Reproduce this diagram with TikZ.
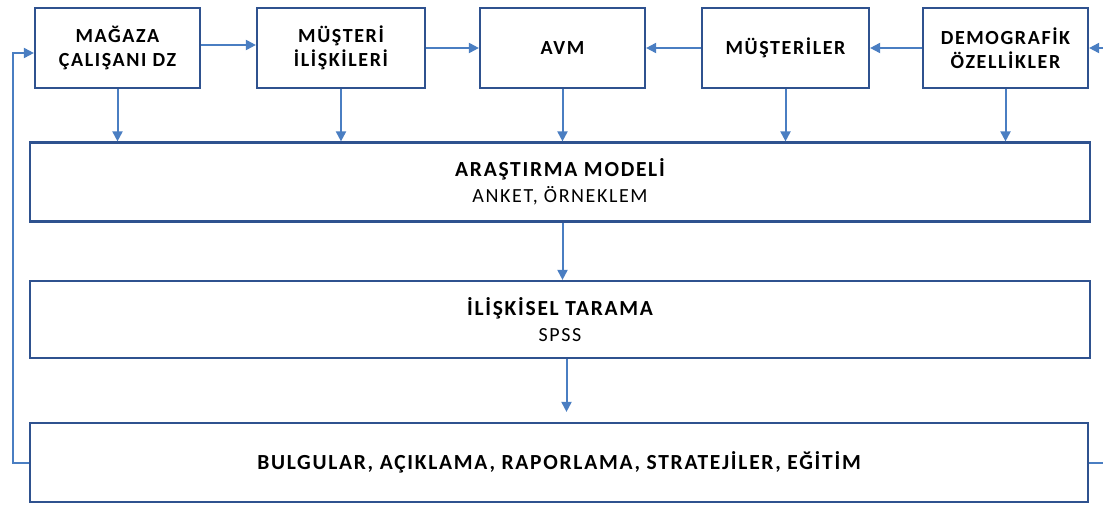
\documentclass[tikz,border=0pt]{standalone}
\usepackage{fontspec}
\setmainfont{Carlito}
\usetikzlibrary{arrows.meta}
\definecolor{boxblue}{RGB}{47,82,143}
\definecolor{linkblue}{RGB}{74,126,194}
\newfontfamily\wideface[LetterSpace=8]{Carlito}
\newcommand\headline[1]{{\fontsize{21.5}{26}\selectfont\bfseries #1}}
\begin{document}
\begin{tikzpicture}[x=1pt,y=-1pt]
			\tikzstyle{topbox}=[draw=boxblue,line width=2.2pt,minimum height=80pt,align=center,font=\wideface\fontsize{20}{24}\selectfont\bfseries]
			\tikzstyle{widebox}=[draw=boxblue,line width=2.2pt,minimum width=1060pt,align=center,font=\wideface\fontsize{20}{26}\selectfont]
			\tikzstyle{link}=[draw=linkblue,line width=2pt,-{Triangle[length=10pt,width=10pt]}]
			
			\useasboundingbox (0,0) rectangle (1103,506);
			\clip (0,0) rectangle (1103,506);
			
			\node (magaza) [topbox,minimum width=165pt] at (117.5,48) {MAĞAZA\\ÇALIŞANI DZ};
			\node (iliski) [topbox,minimum width=168pt] at (341,48) {MÜŞTERİ\\İLİŞKİLERİ};
			\node (avm) [topbox,minimum width=165pt] at (562.5,48) {AVM};
			\node (musteri) [topbox,minimum width=167pt] at (785.5,48) {MÜŞTERİLER};
			\node (demo) [topbox,minimum width=165pt] at (1005.5,48) {DEMOGRAFİK\\ÖZELLİKLER};
			
			\node (model) [widebox,minimum height=79pt] at (560,182) {\headline{ARAŞTIRMA MODELİ}\\ANKET, ÖRNEKLEM};
			\node (tarama) [widebox,minimum height=77pt] at (560,319.5) {\headline{İLİŞKİSEL TARAMA}\\SPSS};
			\node (bulgu) [widebox,minimum height=79pt,minimum width=1058pt] at (559,462.5) {\headline{BULGULAR, AÇIKLAMA, RAPORLAMA, STRATEJİLER, EĞİTİM}};
			
			\draw[link] ([yshift=3pt]magaza.east) -- ([yshift=3pt]iliski.west);
			\draw[link] (iliski) -- (avm);
			\draw[link] (musteri) -- (avm);
			\draw[link] (demo) -- (musteri);
			
			\draw[link] (magaza) -- (magaza |- model.north);
			\draw[link] (iliski) -- (iliski |- model.north);
			\draw[link] (avm) -- (avm |- model.north);
			\draw[link] (musteri) -- (musteri |- model.north);
			\draw[link] (demo) -- (demo |- model.north);
			
			\draw[link] (avm |- model.south) -- (avm |- tarama.north);
			\draw[link,shorten >=10pt] ([xshift=4pt]avm |- tarama.south) -- ([xshift=4pt]avm |- bulgu.north);
			
			% feedback lines
			\draw[link] (bulgu.west) -- ++(-16,0) |- ([yshift=-5pt]magaza.west);
			\draw[link] (bulgu.east) -- (1115,462.5) |- (demo.east);
			
			\end{tikzpicture}
\end{document}
